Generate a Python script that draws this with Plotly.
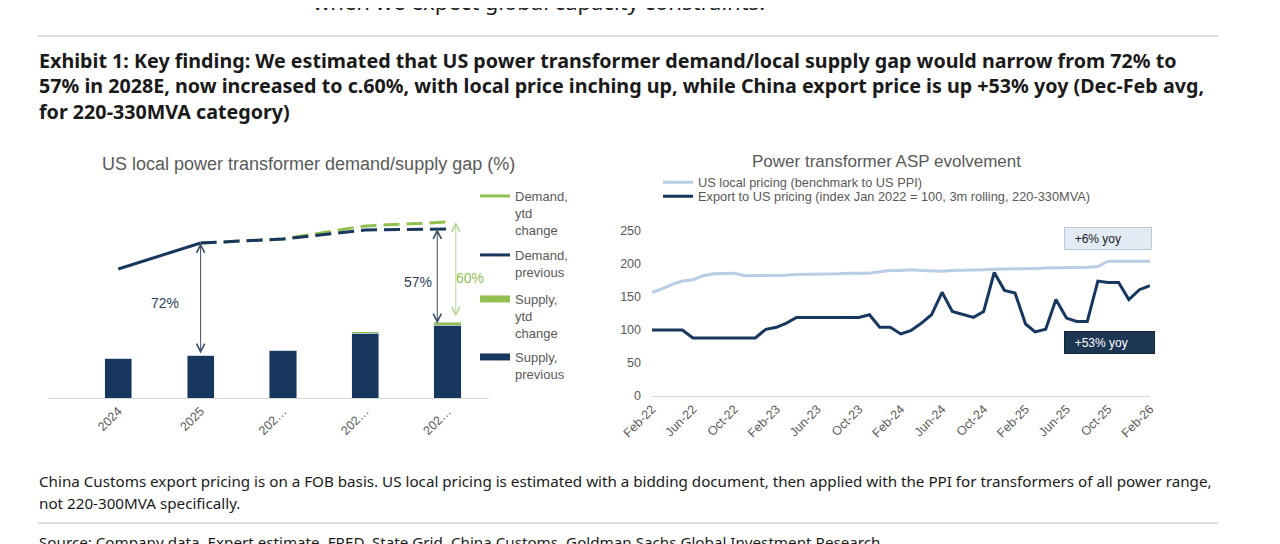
import pandas as pd
import plotly.graph_objects as go

W, H = 1280, 544
OFF = 8  # the page body margin shifts the figure by 8px

# left chart: demand / supply (arbitrary units)
years = ["2024", "2025", "2026E", "2027E", "2028E"]
year_ticks = ["2024", "2025", "202…", "202…", "202…"]
supply_prev = [40, 43, 48, 65, 73]
supply_ytd = [0, 0, 0, 1.5, 3]
demand_prev = [129, 155, 159, 168, 169]
demand_ytd = [None, 155, 159, 172, 176]

# right chart: ASP index, monthly Feb-22 .. Feb-26
months = pd.date_range("2022-02-01", "2026-02-01", freq="MS")
us_local = [157, 162, 169, 174, 176, 182, 185, 186, 186, 182, 182, 183, 183,
            183, 184, 184, 185, 185, 185, 186, 186, 186, 188, 190, 190, 191,
            190, 189, 189, 190, 190, 191, 191, 192, 192, 192, 192, 193, 194,
            194, 194, 195, 195, 196, 204, 204, 204, 204, 204]
export_us = [100, 100, 100, 100, 88, 88, 88, 88, 88, 88, 88, 101, 104, 110,
             119, 119, 119, 119, 119, 119, 119, 123, 104, 104, 94, 99, 110,
             123, 157, 128, 123, 119, 128, 187, 160, 156, 109, 97, 101, 146,
             118, 113, 113, 174, 172, 172, 146, 161, 167]

NAVY = "#17375e"
GREEN = "#92c050"
LIGHT = "#b9cde4"
GREY = "#595959"
CHART_FONT = "Liberation Sans"
TEXT_FONT = "Noto Sans"


def px_x(p):
    return (p - OFF) / W


def px_y(p):
    return 1 - (p - OFF) / H


fig = go.Figure()

# ---- left chart
fig.add_trace(go.Bar(x=years, y=supply_prev, marker_color=NAVY, width=0.33,
                     showlegend=False, xaxis="x", yaxis="y"))
fig.add_trace(go.Bar(x=years, y=supply_ytd, marker_color=GREEN, width=0.33,
                     showlegend=False, xaxis="x", yaxis="y"))
fig.add_trace(go.Scatter(x=years[:2], y=demand_prev[:2], mode="lines",
                         line=dict(color=NAVY, width=3), showlegend=False,
                         xaxis="x", yaxis="y"))
fig.add_trace(go.Scatter(x=years[1:], y=demand_ytd[1:], mode="lines",
                         line=dict(color=GREEN, width=3, dash="16px,7px"),
                         showlegend=False, xaxis="x", yaxis="y"))
fig.add_trace(go.Scatter(x=years[1:], y=demand_prev[1:], mode="lines",
                         line=dict(color=NAVY, width=3, dash="16px,7px"),
                         showlegend=False, xaxis="x", yaxis="y"))

# legend entries (one legend each so they sit where the original ones do)
left_legend = [
    ("Demand,<br>ytd<br>change", GREEN, 3, "legend", 195),
    ("Demand,<br>previous", NAVY, 3, "legend3", 254),
    ("Supply,<br>ytd<br>change", GREEN, 7, "legend4", 298),
    ("Supply,<br>previous", NAVY, 7, "legend5", 356),
]
for name, col, lw, lg, first_line in left_legend:
    fig.add_trace(go.Scatter(x=[None], y=[None], mode="lines", name=name,
                             line=dict(color=col, width=lw), legend=lg,
                             xaxis="x", yaxis="y"))

# ---- right chart
fig.add_trace(go.Scatter(x=months, y=us_local, mode="lines",
                         name="US local pricing (benchmark to US PPI)",
                         line=dict(color=LIGHT, width=3), legend="legend6",
                         xaxis="x2", yaxis="y2"))
fig.add_trace(go.Scatter(x=months, y=export_us, mode="lines",
                         name="Export to US pricing (index Jan 2022 = 100, 3m rolling, 220-330MVA)",
                         line=dict(color=NAVY, width=3), legend="legend7",
                         xaxis="x2", yaxis="y2"))

legend_common = dict(bgcolor="rgba(0,0,0,0)", valign="top", xanchor="left",
                     yanchor="top", itemwidth=30)
legends = {}
for name, col, lw, lg, first_line in left_legend:
    legends[lg] = dict(legend_common, x=px_x(475), y=px_y(first_line - 14),
                       font=dict(family=CHART_FONT, size=13, color=GREY))
legends["legend6"] = dict(legend_common, x=px_x(658), y=px_y(182 - 14.5),
                          font=dict(family=CHART_FONT, size=12.8, color=GREY))
legends["legend7"] = dict(legend_common, x=px_x(658), y=px_y(196 - 14.5),
                          font=dict(family=CHART_FONT, size=12.8, color=GREY))

annotations = [
    # cropped sentence at the very top
    dict(x=px_x(311), y=px_y(1), xref="paper", yref="paper", xanchor="left",
         yanchor="middle", showarrow=False,
         text="when we expect global capacity constraints.",
         font=dict(family=TEXT_FONT, size=22, color="#1a1a1a")),
    # chart titles
    dict(x=px_x(308), y=px_y(164), xref="paper", yref="paper",
         xanchor="center", yanchor="middle", showarrow=False,
         text="US local power transformer demand/supply gap (%)",
         font=dict(family=CHART_FONT, size=18, color=GREY)),
    dict(x=px_x(886), y=px_y(161), xref="paper", yref="paper",
         xanchor="center", yanchor="middle", showarrow=False,
         text="Power transformer ASP evolvement",
         font=dict(family=CHART_FONT, size=17, color=GREY)),
    # gap arrows
    dict(x=1, y=demand_prev[1], ax=1, ay=supply_prev[1], xref="x", yref="y",
         axref="x", ayref="y", text="", showarrow=True, arrowside="end+start",
         arrowhead=5, startarrowhead=5, arrowsize=1.6, startarrowsize=1.6,
         arrowwidth=1, arrowcolor="#3b4f66"),
    dict(x=3.875, y=demand_prev[4], ax=3.875, ay=supply_prev[4], xref="x",
         yref="y", axref="x", ayref="y", text="", showarrow=True,
         arrowside="end+start", arrowhead=5, startarrowhead=5, arrowsize=1.6,
         startarrowsize=1.6, arrowwidth=1, arrowcolor="#3b4f66"),
    dict(x=4.1, y=demand_ytd[4], ax=4.1, ay=supply_prev[4] + supply_ytd[4] + 4,
         xref="x", yref="y", axref="x", ayref="y", text="", showarrow=True,
         arrowside="end+start", arrowhead=5, startarrowhead=5, arrowsize=1.6,
         startarrowsize=1.6, arrowwidth=1, arrowcolor="#b5d69a"),
    dict(x=0.57, y=95, xref="x", yref="y", text="72%", showarrow=False,
         font=dict(family=CHART_FONT, size=14, color="#2b3f57")),
    dict(x=3.64, y=116, xref="x", yref="y", text="57%", showarrow=False,
         font=dict(family=CHART_FONT, size=14, color="#2b3f57")),
    dict(x=4.27, y=120, xref="x", yref="y", text="60%", showarrow=False,
         font=dict(family=CHART_FONT, size=14, color=GREEN)),
    # yoy boxes
    dict(x=px_x(1108), y=px_y(239), xref="paper", yref="paper",
         xanchor="center", yanchor="middle",
         showarrow=False, text="&nbsp;&nbsp;+6% yoy", align="left",
         width=80, height=15, borderpad=3, bgcolor="#e2eaf3",
         bordercolor="#bcc8d4", borderwidth=1,
         font=dict(family=CHART_FONT, size=12, color="#1a1a1a")),
    dict(x=px_x(1109.5), y=px_y(342.5), xref="paper", yref="paper",
         xanchor="center", yanchor="middle",
         showarrow=False, text="&nbsp;&nbsp;+53% yoy", align="left",
         width=83, height=15, borderpad=3, bgcolor="#1d3654",
         bordercolor="#10243a", borderwidth=1,
         font=dict(family=CHART_FONT, size=12, color="#ffffff")),
]

title_lines = [
    "Exhibit 1: Key finding: We estimated that US power transformer demand/local supply gap would narrow from 72% to",
    "57% in 2028E, now increased to c.60%, with local price inching up, while China export price is up +53% yoy (Dec-Feb avg,",
    "for 220-330MVA category)",
]
for i, line in enumerate(title_lines):
    annotations.append(dict(x=px_x(36.5), y=px_y(60 + i * 25.5), xref="paper",
                            yref="paper", xanchor="left", yanchor="middle",
                            showarrow=False, text="<b>" + line + "</b>",
                            font=dict(family=TEXT_FONT, size=19.7, color="#1a1a1a")))

note_lines = [
    "China Customs export pricing is on a FOB basis. US local pricing is estimated with a bidding document, then applied with the PPI for transformers of all power range,",
    "not 220-300MVA specifically.",
]
for i, line in enumerate(note_lines):
    annotations.append(dict(x=px_x(36.5), y=px_y(481 + i * 22), xref="paper",
                            yref="paper", xanchor="left", yanchor="middle",
                            showarrow=False, text=line,
                            font=dict(family=TEXT_FONT, size=15.2, color="#1a1a1a")))
annotations.append(dict(x=px_x(36.5), y=px_y(542), xref="paper", yref="paper",
                        xanchor="left", yanchor="middle", showarrow=False,
                        text="Source: Company data, Expert estimate, FRED, State Grid, China Customs, Goldman Sachs Global Investment Research",
                        font=dict(family=TEXT_FONT, size=15.2, color="#1a1a1a")))

shapes = [
    dict(type="line", xref="paper", yref="paper", x0=px_x(38), x1=px_x(1218),
         y0=px_y(36), y1=px_y(36), line=dict(color="#bdbdbd", width=1)),
    dict(type="line", xref="paper", yref="paper", x0=px_x(38), x1=px_x(1218),
         y0=px_y(523), y1=px_y(523), line=dict(color="#bdbdbd", width=1)),
]

fig.update_layout(
    width=W, height=H,
    margin=dict(l=0, r=0, t=0, b=0, autoexpand=False),
    paper_bgcolor="white", plot_bgcolor="white",
    barmode="stack",
    annotations=annotations,
    shapes=shapes,
    xaxis=dict(domain=[px_x(48), px_x(488.7)], range=[-0.854, 4.5],
               type="category", tickvals=years, ticktext=year_ticks,
               tickangle=-45, showline=True, linecolor="#d9d9d9",
               showgrid=False, ticks="", automargin=False,
               tickfont=dict(family=CHART_FONT, size=12.5, color=GREY)),
    yaxis=dict(domain=[px_y(398), px_y(198)], range=[0, 200], visible=False,
               automargin=False),
    xaxis2=dict(domain=[px_x(652), px_x(1150)],
                range=["2022-02-01", "2026-02-01"], type="date",
                tick0="2022-02-01", dtick="M4", tickformat="%b-%y",
                tickangle=-45, showline=True, linecolor="#d9d9d9",
                showgrid=False, ticks="", anchor="y2", automargin=False,
                tickfont=dict(family=CHART_FONT, size=12.5, color=GREY)),
    yaxis2=dict(domain=[px_y(396), px_y(221)], range=[0, 265],
                tickvals=[0, 50, 100, 150, 200, 250], showgrid=False,
                zeroline=False, showline=False, anchor="x2", automargin=False,
                ticklabelstandoff=10,
                tickfont=dict(family=CHART_FONT, size=12.5, color=GREY)),
    **legends,
)

fig.write_html("out.html")
